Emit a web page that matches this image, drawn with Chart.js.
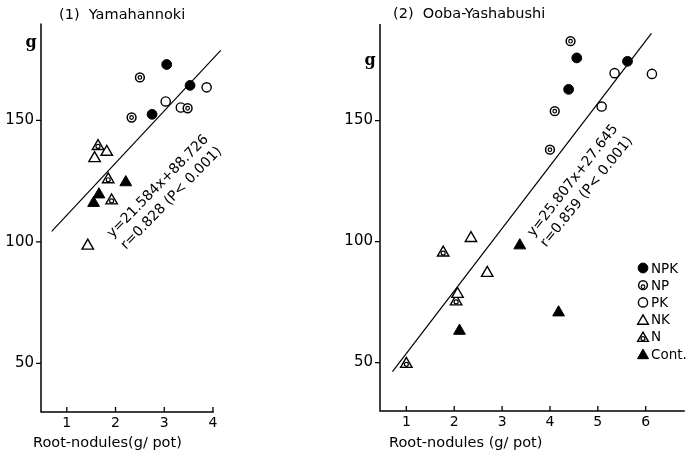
<!DOCTYPE html>
<html><head><meta charset="utf-8">
<script src="https://cdn.jsdelivr.net/npm/chart.js@4"></script>
<style>
html,body{margin:0;padding:0;background:#fff;}
#wrap{position:relative;width:692px;height:456px;background:#fff;overflow:hidden;}
#c1{position:absolute;left:0;top:0;}
#c2{position:absolute;left:300px;top:0;}
</style></head><body>
<div id="wrap"><canvas id="c1" width="240" height="456"></canvas><canvas id="c2" width="392" height="456"></canvas></div>
<script>
// ---------- data ----------
const seriesNames = ['NPK', 'NP', 'PK', 'NK', 'N', 'Cont.'];
const yTickValues = [50, 100, 150];
const xTicksLeft = [1, 2, 3, 4];
const xTicksRight = [1, 2, 3, 4, 5, 6];

// (1) Yamahannoki  [root-nodules g/pot, g]
const yamaNPK  = [[3.05, 173.0], [3.53, 164.4], [2.75, 152.5]];
const yamaNP   = [[2.50, 167.7], [2.33, 151.2], [3.48, 155.0]];
const yamaPK   = [[3.03, 157.8], [3.34, 155.3], [3.87, 163.6]];
const yamaNK   = [[1.57, 134.4], [1.82, 137.0], [1.43, 98.4]];
const yamaN    = [[1.64, 139.4], [1.85, 125.7], [1.92, 117.0]];
const yamaCont = [[2.21, 124.5], [1.66, 119.5], [1.55, 116.0]];
const yamaLine = [[0.69, 104.3], [4.16, 178.8]];
const yamaEq = ['y=21.584x+88.726', 'r=0.828 (P< 0.001)'];

// (2) Ooba-Yashabushi
const oobaNPK  = [[4.56, 175.9], [4.39, 162.9], [5.62, 174.5]];
const oobaNP   = [[4.43, 182.8], [4.10, 153.9], [4.00, 138.0]];
const oobaPK   = [[5.35, 169.6], [5.08, 155.8], [6.13, 169.3]];
const oobaNK   = [[2.35, 101.4], [2.69, 87.0], [2.07, 78.3]];
const oobaN    = [[1.00, 49.4], [1.77, 95.4], [2.04, 75.2]];
const oobaCont = [[3.37, 98.4], [4.18, 70.7], [2.11, 63.1]];
const oobaLine = [[0.71, 46.3], [6.12, 186.0]];
const oobaEq = ['y=25.807x+27.645', 'r=0.859 (P< 0.001)'];

// ---------- marker styles ----------
const markerStyle = {
  'NPK':   {pointStyle: 'circle',   radius: 4.9, bg: '#000', bw: 1,   inner: false},
  'NP':    {pointStyle: 'circle',   radius: 4.4, bg: '#fff', bw: 1.5, inner: 'ring'},
  'PK':    {pointStyle: 'circle',   radius: 4.6, bg: '#fff', bw: 1.4, inner: false},
  'NK':    {pointStyle: 'triangle', radius: 6.6, bg: '#fff', bw: 1.4, inner: false},
  'N':     {pointStyle: 'triangle', radius: 6.6, bg: '#fff', bw: 1.4, inner: 'tri'},
  'Cont.': {pointStyle: 'triangle', radius: 6.8, bg: '#000', bw: 1,   inner: false}
};

function drawInner(ctx, kind, x, y) {
  const m = markerStyle[kind];
  if (!m.inner) return;
  ctx.beginPath();
  if (m.inner === 'ring') ctx.arc(x, y, 1.8, 0, 2 * Math.PI);
  else ctx.arc(x, y + 0.3, 2.0, 0, 2 * Math.PI);
  ctx.lineWidth = 1.2; ctx.strokeStyle = '#000'; ctx.stroke();
}

const toXY = arr => arr.map(p => ({x: p[0], y: p[1]}));

function buildDatasets(groups, line) {
  const ds = groups.map((g, i) => {
    const m = markerStyle[seriesNames[i]];
    return {
      type: 'scatter', label: seriesNames[i], data: toXY(g),
      pointStyle: m.pointStyle, pointRadius: m.radius, pointBackgroundColor: m.bg,
      pointBorderColor: '#000', pointBorderWidth: m.bw, order: 1
    };
  });
  ds.push({type: 'line', label: 'fit', data: toXY(line), showLine: true,
    borderColor: '#000', borderWidth: 1.2, pointRadius: 0, fill: false, order: 10});
  return ds;
}

Chart.defaults.font.family = 'DejaVu Sans';
Chart.defaults.color = '#000';

const drawPlugin = {
  id: 'drawExtras',
  afterDatasetsDraw(chart, args, o) {
    const {ctx, chartArea: a, scales: {x, y}} = chart;
    ctx.save();
    // inner details of NP / N markers at library-computed positions
    chart.data.datasets.forEach((d, i) => {
      if (d.type !== 'scatter') return;
      chart.getDatasetMeta(i).data.forEach(el => drawInner(ctx, d.label, el.x, el.y));
    });

    ctx.strokeStyle = '#000'; ctx.lineWidth = 1.5; ctx.lineCap = 'square';
    const xEnd = o.xEnd != null ? x.getPixelForValue(o.xEnd) : a.right;
    ctx.beginPath();
    ctx.moveTo(a.left, a.top + 1); ctx.lineTo(a.left, a.bottom); ctx.lineTo(xEnd, a.bottom);
    ctx.stroke();
    ctx.lineCap = 'butt'; ctx.lineWidth = 1.3;
    ctx.beginPath();
    y.ticks.forEach(t => { const py = y.getPixelForValue(t.value); ctx.moveTo(a.left - 5, py); ctx.lineTo(a.left, py); });
    x.ticks.forEach(t => { const px = x.getPixelForValue(t.value); ctx.moveTo(px, a.bottom); ctx.lineTo(px, a.bottom - 5); });
    ctx.stroke();

    ctx.fillStyle = '#000'; ctx.textBaseline = 'middle'; ctx.textAlign = 'left';
    ctx.font = '14.5px "DejaVu Sans"';
    ctx.fillText(o.title.text, o.title.x, o.title.y);
    ctx.font = '14.5px "DejaVu Sans"';
    ctx.fillText(o.xTitle.text, o.xTitle.x, o.xTitle.y);
    ctx.font = 'bold 16px "DejaVu Serif"';
    ctx.textAlign = 'center';
    ctx.fillText('g', o.unit.x, o.unit.y);

    ctx.font = '14px "DejaVu Sans"';
    o.eq.forEach(e => {
      ctx.save();
      ctx.translate(x.getPixelForValue(e.x), y.getPixelForValue(e.y));
      ctx.rotate(e.rot * Math.PI / 180);
      ctx.textAlign = 'center';
      ctx.fillText(e.text, 0, 0);
      ctx.restore();
    });

    if (o.legend) {
      ctx.font = '13.5px "DejaVu Sans"';
      ctx.textAlign = 'left';
      chart.data.datasets.filter(d => d.type === 'scatter').forEach((d, i) => {
        const cy = o.legend.y + i * o.legend.dy;
        const m = markerStyle[d.label];
        ctx.fillStyle = m.bg; ctx.strokeStyle = '#000'; ctx.lineWidth = m.bw;
        const r = m.pointStyle === 'triangle' ? m.radius - 0.4 : m.radius;
        Chart.helpers.drawPoint(ctx, {pointStyle: m.pointStyle, radius: r, rotation: 0, borderWidth: m.bw},
          o.legend.x, cy + (m.pointStyle === 'triangle' ? 1.5 : 0));
        drawInner(ctx, d.label, o.legend.x, cy + 1.5);
        ctx.fillStyle = '#000';
        ctx.fillText(d.label, o.legend.x + 8, cy + 1);
      });
    }
    ctx.restore();
  }
};

function makeChart(id, datasets, xmin, xmax, xTicks, pad, yW, xH, extras) {
  return new Chart(document.getElementById(id), {
    data: {datasets},
    plugins: [drawPlugin],
    options: {
      responsive: false, animation: false, devicePixelRatio: 1,
      layout: {padding: pad},
      plugins: {legend: {display: false}, tooltip: {enabled: false}, drawExtras: extras},
      scales: {
        x: {type: 'linear', min: xmin, max: xmax,
            afterBuildTicks: s => { s.ticks = xTicks.map(v => ({value: v})); },
            afterFit: s => { s.height = xH; },
            grid: {display: false, drawTicks: false}, border: {display: false},
            ticks: {padding: 3, font: {size: 14}, color: '#000'}},
        y: {type: 'linear', min: 30, max: 190,
            afterBuildTicks: s => { s.ticks = yTickValues.map(v => ({value: v})); },
            afterFit: s => { s.width = yW; },
            grid: {display: false, drawTicks: false}, border: {display: false},
            ticks: {padding: 7, font: {size: 15}, color: '#000'}}
      }
    }
  });
}

makeChart('c1',
  buildDatasets([yamaNPK, yamaNP, yamaPK, yamaNK, yamaN, yamaCont], yamaLine),
  0.47, 4.2, xTicksLeft, {left: 0, top: 23.2, right: 17.3, bottom: 0}, 41, 44,
  {xEnd: 4,
   title: {text: '(1)  Yamahannoki', x: 59, y: 15},
   xTitle: {text: 'Root-nodules(g/ pot)', x: 33, y: 443},
   unit: {x: 31, y: 43},
   eq: [{text: yamaEq[0], x: 2.87, y: 122.8, rot: -45.5},
        {text: yamaEq[1], x: 3.15, y: 117.9, rot: -45.5}]});

makeChart('c2',
  buildDatasets([oobaNPK, oobaNP, oobaPK, oobaNK, oobaN, oobaCont], oobaLine),
  0.45, 6.8, xTicksRight, {left: 40, top: 23.8, right: 2.1, bottom: 0}, 40, 45,
  {xEnd: null,
   title: {text: '(2)  Ooba-Yashabushi', x: 93, y: 14},
   xTitle: {text: 'Root-nodules (g/ pot)', x: 89, y: 443},
   unit: {x: 70, y: 61},
   eq: [{text: oobaEq[0], x: 4.48, y: 125.2, rot: -52},
        {text: oobaEq[1], x: 4.77, y: 120.5, rot: -51}],
   legend: {x: 343, y: 268, dy: 17.2}});
</script>
</body></html>
